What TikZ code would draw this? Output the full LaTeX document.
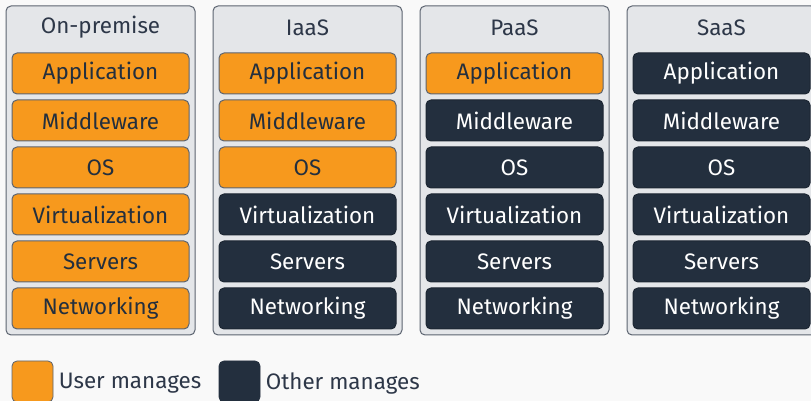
\documentclass[tikz,border=0pt]{standalone}
\usepackage{fontspec}
\setmainfont{Fira Sans}
\usepackage{tikz}
\usetikzlibrary{positioning}
\definecolor{useramber}{HTML}{F7991D}
\definecolor{othernavy}{HTML}{232F3E}
\definecolor{panelgrey}{HTML}{E4E6E9}
\definecolor{paneledge}{HTML}{5C6470}
\definecolor{inktext}{HTML}{2D3748}
\definecolor{pagebg}{HTML}{F9F9F9}
\tikzset{
    panel/.style={draw=paneledge, line width=0.5pt, rounded corners=2.5pt, fill=panelgrey, minimum width=94.5pt, minimum height=164.5pt},
    paneltitle/.style={text=inktext, font=\fontsize{11.2}{13}\selectfont},
    userbox/.style={draw=paneledge, line width=0.5pt, rounded corners=2.5pt, fill=useramber, text=othernavy, minimum width=88.5pt, minimum height=20.5pt, font=\fontsize{11.2}{13}\selectfont},
    otherbox/.style={draw=othernavy!80!black, line width=0.5pt, rounded corners=2.5pt, fill=othernavy, text=white, minimum width=88.5pt, minimum height=20.5pt, font=\fontsize{11.2}{13}\selectfont},
    keybox/.style={rounded corners=2.5pt, minimum width=20.5pt, minimum height=20.5pt, inner sep=0pt},
    keytext/.style={text=inktext, font=\fontsize{11.2}{13}\selectfont, inner sep=0pt}
}
\begin{document}
\begin{tikzpicture}[x=0.5pt,y=-0.5pt]
    \fill[pagebg] (0,0) rectangle (811,401);
    \useasboundingbox (0,0) rectangle (811,401);
    % on-premise
    \node[panel] (onprem) at (100.5,170.5) {};
    \node[paneltitle] (onpremtitle) at (100.5,27.5) {On-premise};
    \node[userbox] (op1) at (100.5,73.5) {Application};
    \node[userbox] (op2) at (100.5,120.5) {Middleware};
    \node[userbox] (op3) at (100.5,167.5) {OS};
    \node[userbox] (op4) at (100.5,214.5) {Virtualization};
    \node[userbox] (op5) at (100.5,261.5) {Servers};
    \node[userbox] (op6) at (100.5,308.5) {Networking};
    % iaas
    \node[panel] (iaas) at (307.5,170.5) {};
    \node[paneltitle] (iaastitle) at (307.5,27.5) {IaaS};
    \node[userbox] (ia1) at (307.5,73.5) {Application};
    \node[userbox] (ia2) at (307.5,120.5) {Middleware};
    \node[userbox] (ia3) at (307.5,167.5) {OS};
    \node[otherbox] (ia4) at (307.5,214.5) {Virtualization};
    \node[otherbox] (ia5) at (307.5,261.5) {Servers};
    \node[otherbox] (ia6) at (307.5,308.5) {Networking};
    % paas
    \node[panel] (paas) at (514.5,170.5) {};
    \node[paneltitle] (paastitle) at (514.5,27.5) {PaaS};
    \node[userbox] (pa1) at (514.5,73.5) {Application};
    \node[otherbox] (pa2) at (514.5,120.5) {Middleware};
    \node[otherbox] (pa3) at (514.5,167.5) {OS};
    \node[otherbox] (pa4) at (514.5,214.5) {Virtualization};
    \node[otherbox] (pa5) at (514.5,261.5) {Servers};
    \node[otherbox] (pa6) at (514.5,308.5) {Networking};
    % saas
    \node[panel] (saas) at (721.5,170.5) {};
    \node[paneltitle] (saastitle) at (721.5,27.5) {SaaS};
    \node[otherbox] (sa1) at (721.5,73.5) {Application};
    \node[otherbox] (sa2) at (721.5,120.5) {Middleware};
    \node[otherbox] (sa3) at (721.5,167.5) {OS};
    \node[otherbox] (sa4) at (721.5,214.5) {Virtualization};
    \node[otherbox] (sa5) at (721.5,261.5) {Servers};
    \node[otherbox] (sa6) at (721.5,308.5) {Networking};
    % legend
    \node[keybox, draw=paneledge, fill=useramber] (userkey) at (32.5,381.5) {};
    \node[keytext, right=2.5pt of userkey, yshift=-1pt] (userlabel) {User manages};
    \node[keybox, draw=othernavy, fill=othernavy] (otherkey) at (239.5,381.5) {};
    \node[keytext, right=2.5pt of otherkey, yshift=-1pt] (otherlabel) {Other manages};
\end{tikzpicture}
\end{document}
